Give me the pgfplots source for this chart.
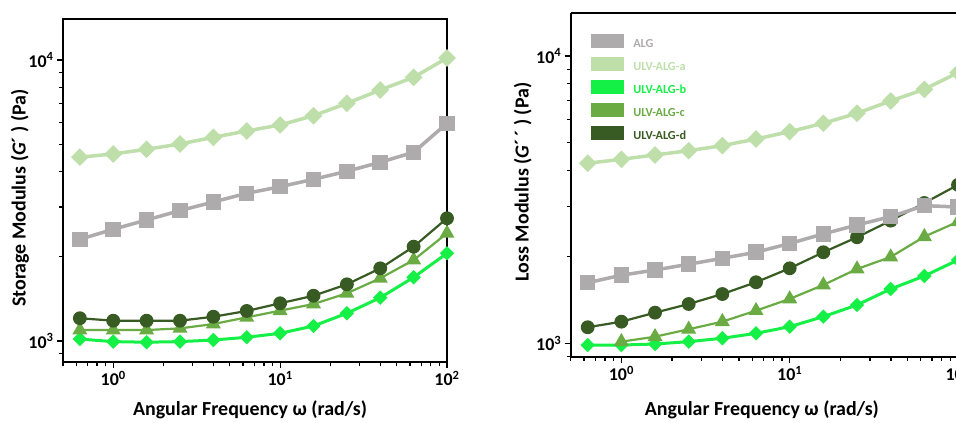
\documentclass[border=0pt]{standalone}
\usepackage{fontspec}
\setmainfont{Carlito}
\usepackage{pgfplots}
\pgfplotsset{compat=1.18}
\definecolor{cALG}{HTML}{ADABAB}
\definecolor{cA}{HTML}{BEDFAA}
\definecolor{cB}{HTML}{14F046}
\definecolor{cC}{HTML}{6AAB44}
\definecolor{cD}{HTML}{375B22}
\pgfplotsset{
  sALG/.style={color=cALG, line width=3.5bp, mark=square*, mark size=6bp},
  sA/.style={color=cA, line width=3.5bp, mark=square*, mark size=4.5bp, mark options={rotate=45}},
  sB/.style={color=cB, line width=3bp, mark=square*, mark size=3.6bp, mark options={rotate=45}},
  sC/.style={color=cC, line width=2.2bp, mark=triangle*, mark size=6.5bp},
  sD/.style={color=cD, line width=2.2bp, mark=*, mark size=5.8bp},
}
\begin{document}
\begin{tikzpicture}[x=1bp,y=1bp]
\useasboundingbox (0,0) rectangle (956,422);
% ---------------- left panel
\begin{axis}[
  scale only axis, xmode=log, ymode=log, xmin=0.5, xmax=100,
  tick align=outside, tick pos=left,
  major tick length=6bp, minor tick length=4bp,
  tick style={black, line width=1.2bp},
  axis line style={line width=1.8bp, black},
  xtick={1,10,100}, xticklabels={10\textsuperscript{0},10\textsuperscript{1},10\textsuperscript{2}},
  minor xtick={0.5,0.6,0.7,0.8,0.9,2,3,4,5,6,7,8,9,20,30,40,50,60,70,80,90},
  ytick={1000,10000}, yticklabels={10\textsuperscript{3},10\textsuperscript{4}},
  minor ytick={900,2000,3000,4000,5000,6000,7000,8000,9000,20000},
  ticklabel style={font=\fontsize{18}{20}\selectfont\bfseries},
  label style={font=\fontsize{20}{24}\selectfont\bfseries},
  at={(63bp,60bp)}, anchor=south west,
  width=384bp, height=343bp,
  ymin=842, ymax=13990,
  xlabel={Angular Frequency ω (rad/s)},
  ylabel={Storage Modulus (\textit{G}´ ) (Pa)},
  xlabel style={at={(axis description cs:0.487,-0.157)}, anchor=base, inner sep=0pt},
  ylabel style={at={(axis description cs:-0.112,0.478)}, anchor=center},
]
\addplot[sB] coordinates {(0.631,1016)(1,995)(1.585,990)(2.512,995)(3.981,1008)(6.310,1031)(10,1065)(15.85,1131)(25.12,1255)(39.81,1426)(63.10,1685)(100,2052)};
\addplot[sC] coordinates {(0.631,1094)(1,1094)(1.585,1094)(2.512,1109)(3.981,1149)(6.310,1214)(10,1282)(15.85,1354)(25.12,1478)(39.81,1672)(63.10,1942)(100,2417)};
\addplot[sD] coordinates {(0.631,1205)(1,1181)(1.585,1181)(2.512,1181)(3.981,1220)(6.310,1279)(10,1362)(15.85,1449)(25.12,1591)(39.81,1814)(63.10,2166)(100,2733)};
\addplot[sA] coordinates {(0.631,4508)(1,4630)(1.585,4810)(2.512,5025)(3.981,5305)(6.310,5590)(10,5870)(15.85,6335)(25.12,7010)(39.81,7820)(63.10,8675)(100,10160)};
\addplot[sALG] coordinates {(0.631,2301)(1,2497)(1.585,2696)(2.512,2910)(3.981,3124)(6.310,3354)(10,3540)(15.85,3762)(25.12,4017)(39.81,4325)(63.10,4694)(100,5953)};
\end{axis}
% ---------------- right panel
\begin{axis}[
  scale only axis, xmode=log, ymode=log, xmin=0.5, xmax=100,
  tick align=outside,
  major tick length=6bp, minor tick length=4bp,
  tick style={black, line width=1.2bp},
  axis line style={line width=1.8bp, black},
  xtick={1,10,100}, xticklabels={10\textsuperscript{0},10\textsuperscript{1},10\textsuperscript{2}},
  minor xtick={0.5,0.6,0.7,0.8,0.9,2,3,4,5,6,7,8,9,20,30,40,50,60,70,80,90},
  ytick={1000,10000}, yticklabels={10\textsuperscript{3},10\textsuperscript{4}},
  minor ytick={900,2000,3000,4000,5000,6000,7000,8000,9000,20000},
  ticklabel style={font=\fontsize{18}{20}\selectfont\bfseries},
  label style={font=\fontsize{20}{24}\selectfont\bfseries},
  at={(570.7bp,65.3bp)}, anchor=south west,
  width=387.3bp, height=343.4bp,
  ymin=898, ymax=14078,
  axis x line*=box, axis y line*=left,
  xtick pos=bottom,
  xlabel={Angular Frequency ω (rad/s)},
  ylabel={Loss Modulus (\textit{G}´\,´ ) (Pa)},
  xlabel style={at={(axis description cs:0.4935,-0.1727)}, anchor=base, inner sep=0pt},
  ylabel style={at={(axis description cs:-0.124,0.509)}, anchor=center},
  legend image code/.code={\fill[#1] (0bp,-3bp) rectangle (32bp,10bp); \path (40bp,0bp);},
  legend style={at={(axis description cs:0.0516,0.94)}, anchor=north west, draw=none, fill=none,
    inner sep=0pt, row sep=6bp, font=\fontsize{12.3}{13}\selectfont\bfseries},
  legend cell align=left,
]
\addlegendimage{cALG}\addlegendentry{\textcolor{cALG}{ALG}}
\addlegendimage{cA}\addlegendentry{\textcolor{cA}{ULV-ALG-a}}
\addlegendimage{cB}\addlegendentry{\textcolor{cB}{ULV-ALG-b}}
\addlegendimage{cC}\addlegendentry{\textcolor{cC}{ULV-ALG-c}}
\addlegendimage{cD}\addlegendentry{\textcolor{cD}{ULV-ALG-d}}
\addplot[sB, forget plot] coordinates {(0.631,986)(1,986)(1.585,994)(2.512,1013)(3.981,1041)(6.310,1083)(10,1142)(15.85,1238)(25.12,1359)(39.81,1545)(63.10,1715)(100,1950)};
\addplot[sC, forget plot] coordinates {(1,1013)(1.585,1054)(2.512,1119)(3.981,1189)(6.310,1299)(10,1427)(15.85,1596)(25.12,1814)(39.81,1997)(63.10,2350)(100,2650)};
\addplot[sD, forget plot] coordinates {(0.631,1137)(1,1189)(1.585,1278)(2.512,1370)(3.981,1484)(6.310,1631)(10,1824)(15.85,2074)(25.12,2339)(39.81,2672)(63.10,3078)(100,3560)};
\addplot[sA, forget plot] coordinates {(0.631,4232)(1,4369)(1.585,4523)(2.512,4682)(3.981,4873)(6.310,5141)(10,5451)(15.85,5832)(25.12,6318)(39.81,6972)(63.10,7656)(100,8750)};
\addplot[sALG, forget plot] coordinates {(0.631,1625)(1,1725)(1.585,1799)(2.512,1884)(3.981,1976)(6.310,2074)(10,2225)(15.85,2402)(25.12,2581)(39.81,2759)(63.10,3013)(100,2981)};
\end{axis}
\end{tikzpicture}
\end{document}
